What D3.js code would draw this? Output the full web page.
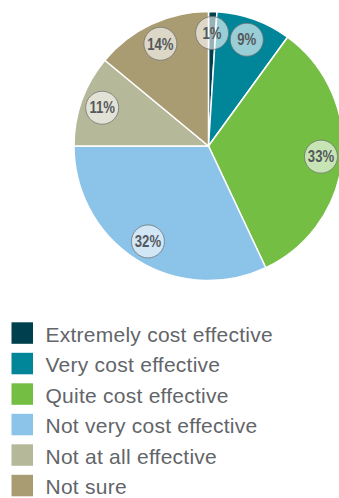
<!DOCTYPE html>
<html>
<head>
<meta charset="utf-8">
<script src="https://cdn.jsdelivr.net/npm/d3@7"></script>
<style>
  html, body { margin: 0; padding: 0; background: #fff; }
  svg { display: block; }
</style>
</head>
<body>
<svg id="chart" width="339" height="498"></svg>
<script>
// Survey answers and their shares (%)
const categories = [
  "Extremely cost effective",
  "Very cost effective",
  "Quite cost effective",
  "Not very cost effective",
  "Not at all effective",
  "Not sure"
];
const shares = [1, 9, 33, 32, 11, 14];
const palette = ["#003f4e", "#008599", "#74be44", "#8cc3e9", "#b6b89a", "#a99b72"];

const svg = d3.select("#chart");
const cx = 208.5, cy = 146, radius = 134.5, labelRadius = 113;

const color = d3.scaleOrdinal().domain(categories).range(palette);
const data = categories.map((c, i) => ({ name: c, value: shares[i] }));

const pie = d3.pie().value(d => d.value).sort(null);
const arcs = pie(data);
const arc = d3.arc().innerRadius(0).outerRadius(radius);
const labelArc = d3.arc().innerRadius(labelRadius).outerRadius(labelRadius);

const g = svg.append("g").attr("transform", `translate(${cx},${cy})`);

g.selectAll("path.slice")
  .data(arcs)
  .join("path")
  .attr("class", "slice")
  .attr("d", arc)
  .attr("fill", d => color(d.data.name))
  .attr("stroke", "#fff")
  .attr("stroke-width", 1.5)
  .attr("stroke-linejoin", "round");

// Percentage badges
const badges = g.selectAll("g.badge")
  .data(arcs)
  .join("g")
  .attr("class", "badge")
  .attr("transform", d => `translate(${labelArc.centroid(d)})`);

badges.append("circle")
  .attr("r", 16.5)
  .attr("fill", "#fff")
  .attr("fill-opacity", 0.6)
  .attr("stroke", "#6e7072")
  .attr("stroke-opacity", 0.75)
  .attr("stroke-width", 1);

// condensed look: squeeze the bold label horizontally
badges.append("text")
  .attr("transform", "scale(0.82,1)")
  .attr("text-anchor", "middle")
  .attr("dy", "0.36em")
  .attr("font-family", "'Liberation Sans', Arial, sans-serif")
  .attr("font-weight", "bold")
  .attr("font-size", 16)
  .attr("fill", "#55585c")
  .text(d => d.data.value + "%");

// Legend
const legend = svg.append("g").attr("transform", "translate(11.5,322.3)");
const rowStep = 30.5;
const rows = legend.selectAll("g.row")
  .data(categories)
  .join("g")
  .attr("class", "row")
  .attr("transform", (d, i) => `translate(0,${i * rowStep})`);

rows.append("rect")
  .attr("width", 21.5)
  .attr("height", 21.5)
  .attr("fill", d => color(d));

rows.append("text")
  .attr("x", 34)
  .attr("y", 19.3)
  .attr("font-family", "'Liberation Sans', Arial, sans-serif")
  .attr("font-size", 21)
  .attr("letter-spacing", 0.25)
  .attr("fill", "#626569")
  .text(d => d);
</script>
</body>
</html>
